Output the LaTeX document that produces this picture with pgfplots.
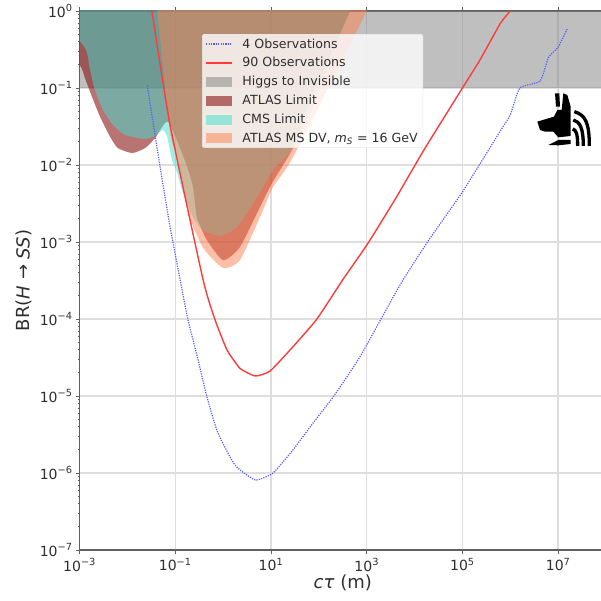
\documentclass[border=0pt]{standalone}
\usepackage{fontspec}
\setmainfont{DejaVu Sans}
\usepackage{pgfplots}
\pgfplotsset{compat=1.18}

\definecolor{spine}{HTML}{606060}
\definecolor{gridc}{HTML}{DEDEDE}
\definecolor{labelc}{HTML}{2E2E2E}
\definecolor{legframe}{HTML}{E8E8E8}
\definecolor{invis}{HTML}{808080}
\definecolor{atlas}{HTML}{800000}
\definecolor{cms}{HTML}{40E0D0}
\definecolor{msdv}{HTML}{FF7F50}
\definecolor{blueline}{HTML}{5A5AFF}
\definecolor{redline}{HTML}{FF3B3B}

\pgfplotsset{
    swatch/.style={legend image code/.code={
        \path[draw=none,fill=#1,rounded corners=0pt] (0pt,-5pt) rectangle (26pt,5pt);
        \path (34pt,0pt);}},
    linekey/.style={legend image code/.code={
        \path[rounded corners=0pt,#1] (0pt,0pt) -- (26pt,0pt);
        \path (34pt,0pt);}},
    lobe/.style={forget plot, draw=none, smooth, tension=0.35, fill=#1},
}

\begin{document}
\begin{tikzpicture}[x=1pt,y=1pt]
\begin{axis}[
    at={(79.6pt,51pt)}, anchor=south west,
    scale only axis, width=526.4pt, height=539pt,
    xmode=log, ymode=log,
    xmin=1e-3, xmax=1e8, ymin=1e-7, ymax=1,
    xtick={1e-3,1e-1,1e1,1e3,1e5,1e7},
    xticklabels={10\textsuperscript{−3},10\textsuperscript{−1},10\textsuperscript{1},10\textsuperscript{3},10\textsuperscript{5},10\textsuperscript{7}},
    ytick={1e-7,1e-6,1e-5,1e-4,1e-3,1e-2,1e-1,1},
    yticklabels={10\textsuperscript{−7},10\textsuperscript{−6},10\textsuperscript{−5},10\textsuperscript{−4},10\textsuperscript{−3},10\textsuperscript{−2},10\textsuperscript{−1},10\textsuperscript{0}},
    xminorticks=false,
    minor ytick={2e-7,3e-7,4e-7,5e-7,6e-7,7e-7,8e-7,9e-7,2e-6,3e-6,4e-6,5e-6,6e-6,7e-6,8e-6,9e-6,2e-5,3e-5,4e-5,5e-5,6e-5,7e-5,8e-5,9e-5,2e-4,3e-4,4e-4,5e-4,6e-4,7e-4,8e-4,9e-4,2e-3,3e-3,4e-3,5e-3,6e-3,7e-3,8e-3,9e-3,2e-2,3e-2,4e-2,5e-2,6e-2,7e-2,8e-2,9e-2,0.2,0.3,0.4,0.5,0.6,0.7,0.8,0.9},
    grid=major,
    major grid style={gridc, line width=1.4pt},
    axis line style={spine, line width=1.2pt},
    tick align=outside,
    major tick length=3.5pt, minor tick length=2pt,
    tick style={spine, line width=0.8pt},
    ticklabel style={font=\fontsize{14}{16}\selectfont, text=labelc},
    xticklabel style={yshift=-1.5pt},
    xlabel={\textit{cτ} (m)},
    ylabel={BR(\textit{H} → \textit{SS})},
    label style={font=\fontsize{18}{20}\selectfont, text=labelc},
    xlabel style={yshift=3pt},
    ylabel style={yshift=1pt},
    legend cell align=left,
    legend style={
        at={(axis description cs:0.2328,0.957)}, anchor=north west,
        fill=white, fill opacity=0.8, draw opacity=1, text opacity=1,
        draw=legframe, line width=0.6pt, rounded corners=1.5pt,
        font=\fontsize{12.6}{14}\selectfont, text=labelc,
        row sep=3.8pt, inner xsep=3pt, inner ysep=2pt,
    },
]
% legend order: the lines come first, areas are stacked under them
\addlegendimage{linekey={draw=blueline, dash pattern=on 1.2pt off 1.2pt, line width=1.2pt}}
\addlegendentry{4 Observations}
\addlegendimage{linekey={draw=redline, line width=1.4pt}}
\addlegendentry{90 Observations}
\addlegendimage{swatch={invis, fill opacity=0.5}}
\addlegendentry{Higgs to Invisible}
\addlegendimage{swatch={atlas, fill opacity=0.55}}
\addlegendentry{ATLAS Limit}
\addlegendimage{swatch={cms, fill opacity=0.5}}
\addlegendentry{CMS Limit}
\addlegendimage{swatch={msdv, fill opacity=0.5}}
\addlegendentry{ATLAS MS DV, \textit{m}\textsubscript{\textit{S}} = 16 GeV}

% Higgs to invisible
\addplot[forget plot, draw=none, fill=invis, fill opacity=0.5] coordinates {
    (1e-3,0.1) (1e8,0.1) (1e8,1) (1e-3,1)} --cycle;

% ATLAS limit
\addplot[lobe=atlas, fill opacity=0.55] coordinates {
    (3e-4,3) (3e-4,0.4) (1e-3,0.2) (1.29e-3,0.135) (1.82e-3,0.0764) (2.69e-3,0.042)
    (4.37e-3,0.0231) (6.3e-3,0.0166) (0.0126,0.0143) (0.0234,0.0166)
    (0.038,0.0224) (0.0708,0.0363) (0.166,0.0106) (0.234,0.00518)
    (0.282,0.00211) (0.457,0.00106) (1.0,0.00058) (2.24,0.00086)
    (5.89,0.00285) (10.5,0.00583) (28.8,0.0166) (56,0.0518) (447,1) (970,3)} --cycle;

% CMS limit
\addplot[lobe=cms, fill opacity=0.5] coordinates {
    (3e-4,3) (3e-4,0.7) (1e-3,0.408) (1.41e-3,0.294) (1.66e-3,0.171) (2.09e-3,0.0942)
    (3.09e-3,0.0518) (5.01e-3,0.0331) (8.9e-3,0.0245) (0.0234,0.0218)
    (0.038,0.0238) (0.055,0.0285) (0.0676,0.0231) (0.0851,0.0116)
    (0.11,0.0079) (0.138,0.00473) (0.234,0.00211) (0.38,0.00143)
    (0.851,0.0012) (1.95,0.00157) (5.13,0.00384) (11,0.00861)
    (28.8,0.0166) (56,0.0363) (447,1) (970,3)} --cycle;

% ATLAS MS DV
\addplot[lobe=msdv, fill opacity=0.5] coordinates {
    (0.0315,3) (0.0417,1) (0.0776,0.0261) (0.11,0.0127) (0.186,0.00238) (0.38,0.00084)
    (1.0,0.00046) (2.24,0.00058) (5.89,0.00211) (11,0.00518)
    (28.8,0.0127) (1000,1) (2160,3)} --cycle;

% 4 observations
\addplot[forget plot, blueline, dash pattern=on 1.2pt off 1.2pt, line width=1.2pt, smooth, tension=0.3] coordinates {
    (0.026,0.107) (0.038,0.0237) (0.0525,0.00676) (0.0776,0.00158) (0.126,3.24e-4)
    (0.184,9.77e-5) (0.299,2.95e-5) (0.457,9.77e-6) (0.776,3.31e-6) (1.78,1.26e-6)
    (4.68,8.13e-7) (11,1e-6) (28.8,2e-6) (75.9,4.47e-6) (200,9.77e-6) (724,3.24e-5)
    (5010,2.8e-4) (2e4,1.07e-3) (1e5,4.47e-3) (6.3e5,0.0282) (1e6,0.0447)
    (1.58e6,0.1) (4.2e6,0.123) (6.3e6,0.251) (1e7,0.339) (1.58e7,0.6)};

% 90 observations
\addplot[forget plot, redline, line width=1.4pt, smooth, tension=0.3] coordinates {
    (0.0324,1) (0.0776,0.0331) (0.38,3.24e-4) (0.676,9.77e-5) (1.2,3.98e-5)
    (2.24,2.29e-5) (4.68,1.82e-5) (9.55,2.11e-5) (28.8,4.37e-5) (91,1.0e-4)
    (316,3.24e-4) (1000,9.1e-4) (3890,3.55e-3) (1.58e4,0.0158)
    (1e5,0.1) (2.3e5,0.229) (6.2e5,0.69) (1e6,1)};
\end{axis}

% logo, top right, traced in pixels of the reference
\begin{scope}[shift={(480pt,601pt)},x=0.3333pt,y=-0.3333pt]
    \fill[black] (172,365) -- (222,350) -- (232,330) -- (245,330) -- (250,280)
        -- (262,285) -- (272,320) -- (272,408) -- (235,412) -- (220,395)
        -- (195,395) -- (180,390) -- cycle;
    \fill[black] (225,280) -- (238,280) -- (240,320) -- (228,320) -- cycle;
    \fill[black] (205,435) -- (235,420) -- (272,420) -- (272,432) -- (235,436) -- cycle;
    \draw[black,line width=3.3pt] (283,335) .. controls (315,345) and (328,365) .. (328,438);
    \draw[black,line width=3.3pt] (280,360) .. controls (300,365) and (310,385) .. (310,438);
    \draw[black,line width=3.3pt] (278,387) .. controls (288,390) and (293,400) .. (293,438);
\end{scope}

\pgfresetboundingbox
\path[use as bounding box] (0,0) rectangle (600pt,601pt);
\end{tikzpicture}
\end{document}
